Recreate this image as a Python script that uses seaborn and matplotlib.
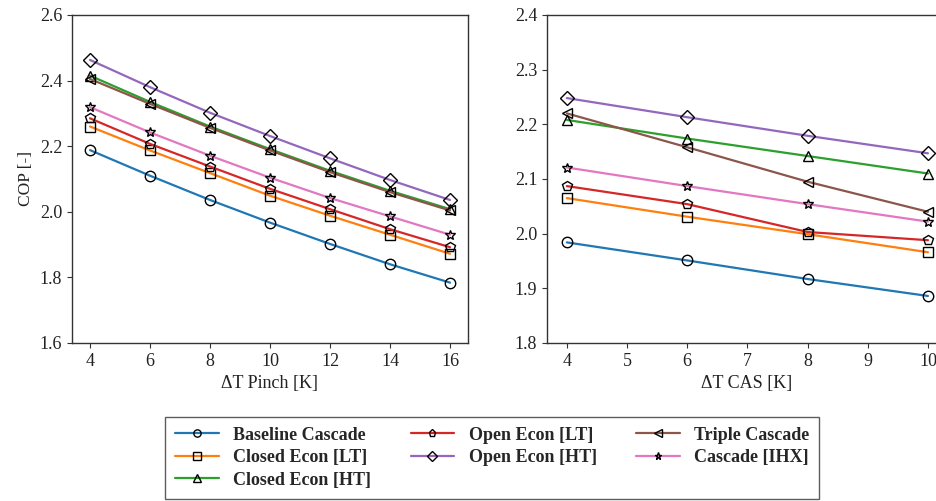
import numpy as np
import pandas as pd
import seaborn as sns
import matplotlib.pyplot as plt

# series names, in legend order
series = ["Baseline Cascade", "Closed Econ [LT]", "Closed Econ [HT]",
          "Open Econ [LT]", "Open Econ [HT]", "Triple Cascade", "Cascade [IHX]"]

# left panel: COP vs pinch temperature difference
pinch_x = [4, 6, 8, 10, 12, 14, 16]
pinch_baseline = [2.188, 2.110, 2.036, 1.967, 1.902, 1.840, 1.784]
pinch_closed_lt = [2.260, 2.187, 2.118, 2.049, 1.988, 1.930, 1.872]
pinch_closed_ht = [2.415, 2.335, 2.260, 2.191, 2.125, 2.064, 2.008]
pinch_open_lt = [2.285, 2.207, 2.138, 2.070, 2.008, 1.947, 1.892]
pinch_open_ht = [2.463, 2.380, 2.302, 2.231, 2.163, 2.097, 2.036]
pinch_triple = [2.405, 2.329, 2.256, 2.187, 2.121, 2.060, 2.004]
pinch_ihx = [2.319, 2.242, 2.171, 2.104, 2.042, 1.986, 1.930]

# right panel: COP vs CAS temperature difference
cas_x = [4, 6, 8, 10]
cas_baseline = [1.984, 1.951, 1.917, 1.886]
cas_closed_lt = [2.065, 2.031, 1.999, 1.966]
cas_closed_ht = [2.208, 2.174, 2.142, 2.110]
cas_open_lt = [2.087, 2.054, 2.003, 1.988]
cas_open_ht = [2.248, 2.213, 2.179, 2.147]
cas_triple = [2.220, 2.158, 2.095, 2.040]
cas_ihx = [2.121, 2.087, 2.054, 2.022]


def to_long(x, cols):
    rows = []
    for name, vals in zip(series, cols):
        for xi, yi in zip(x, vals):
            rows.append({"x": xi, "COP": yi, "config": name})
    return pd.DataFrame(rows)


df_pinch = to_long(pinch_x, [pinch_baseline, pinch_closed_lt, pinch_closed_ht,
                             pinch_open_lt, pinch_open_ht, pinch_triple, pinch_ihx])
df_cas = to_long(cas_x, [cas_baseline, cas_closed_lt, cas_closed_ht,
                         cas_open_lt, cas_open_ht, cas_triple, cas_ihx])

sns.set_style("ticks")
plt.rcParams["font.family"] = ["Liberation Serif", "DejaVu Serif"]

palette = sns.color_palette("tab10", 7)
markers = {"Baseline Cascade": "o", "Closed Econ [LT]": "s", "Closed Econ [HT]": "^",
           "Open Econ [LT]": "p", "Open Econ [HT]": "D", "Triple Cascade": "<",
           "Cascade [IHX]": "*"}

fig = plt.figure(figsize=(9.36, 5.01), dpi=100)
ax1 = fig.add_axes([0.0769, 0.3154, 0.4231, 0.6547])
ax2 = fig.add_axes([0.5844, 0.3154, 0.4263, 0.6547])

line_kw = dict(hue="config", style="config", hue_order=series, style_order=series,
               palette=palette, markers=markers, dashes=False, legend=False,
               linewidth=1.6, markersize=7.5, markerfacecolor="none",
               markeredgecolor="black", markeredgewidth=1.0)

sns.lineplot(data=df_pinch, x="x", y="COP", ax=ax1, **line_kw)
sns.lineplot(data=df_cas, x="x", y="COP", ax=ax2, **line_kw)

for ax in (ax1, ax2):
    for s in ax.spines.values():
        s.set_color("#333333")
        s.set_linewidth(1.0)
    ax.tick_params(labelsize=13, direction="out", length=3.5, color="#333333",
                   labelcolor="#222222")

ax1.set_xlim(3.4, 16.6)
ax1.set_ylim(1.6, 2.6)
ax1.set_xticks(pinch_x)
ax1.set_yticks(np.arange(1.6, 2.61, 0.2))
ax1.set_xlabel("ΔT Pinch [K]", fontsize=13, color="#222222")
ax1.set_ylabel("COP [-]", fontsize=12.5, color="#222222")

ax2.set_xlim(3.67, 10.3)
ax2.set_ylim(1.8, 2.4)
ax2.set_xticks(range(4, 11))
ax2.set_yticks(np.arange(1.8, 2.41, 0.1))
ax2.set_xlabel("ΔT CAS [K]", fontsize=13, color="#222222")
ax2.set_ylabel("")

handles = ax1.get_lines()[:len(series)]
leg = fig.legend(handles, series, loc="upper center", bbox_to_anchor=(0.526, 0.186),
                 ncol=3, frameon=True, fancybox=False, edgecolor="#333333",
                 prop={"weight": "bold", "size": 13}, markerscale=0.7,
                 handlelength=2.4, columnspacing=2.2, borderpad=0.55,
                 labelspacing=0.3, handletextpad=0.8)
leg.get_frame().set_linewidth(1.0)

fig.savefig("out.png", dpi=100)
